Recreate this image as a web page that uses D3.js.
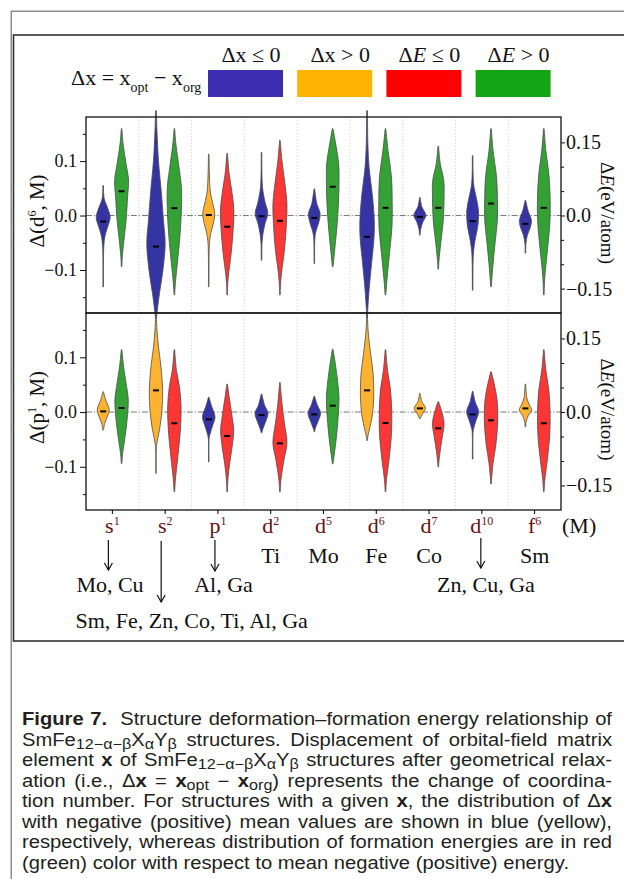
<!DOCTYPE html>
<html>
<head>
<meta charset="utf-8">
<script src="https://cdn.jsdelivr.net/npm/d3@7"></script>
<style>
body { margin: 0; background: #fff; }
#fig { position: relative; width: 624px; height: 879px; overflow: hidden; }
#cap { position: absolute; left: 22px; top: 709px; width: 590px; transform-origin: 0 0;
  font-family: "Liberation Sans", Arial, sans-serif; font-size: 17.5px; line-height: 20.5px; color: #231f20; }
#cap div { text-align: justify; text-align-last: justify; white-space: nowrap; }
#cap div.last { text-align-last: left; }
#cap sub { font-size: 0.8em; vertical-align: -0.2em; line-height: 0; }
</style>
</head>
<body>
<div id="fig"></div>
<script>
// ---- data ----
const catBase = ["s", "s", "p", "d", "d", "d", "d", "d", "f"];
const catSup = ["1", "2", "1", "2", "5", "6", "7", "10", "6"];
const elements = ["", "", "", "Ti", "Mo", "Fe", "Co", "", "Sm"];

// violins: knots [value, density] from top to bottom, one array per category
// top panel, left axis  Δ(d6, M)
const topDx = [
  [[0.055,0.3],[0.031,1],[0.016,4],[-0.003,7],[-0.018,5],[-0.036,2],[-0.057,0.6],[-0.131,0.3]],
  [[0.1925,0.4],[0.156,1],[0.101,2.5],[0.040,5.5],[-0.009,7.5],[-0.051,9.2],[-0.100,7],[-0.143,3.5],[-0.179,1],[-0.188,0.4]],
  [[0.113,0.3],[0.046,1.5],[0.022,4],[0.004,6],[-0.015,4.5],[-0.033,2],[-0.051,0.7],[-0.131,0.3]],
  [[0.116,0.3],[0.052,1],[0.025,3.5],[0.004,6.3],[-0.015,3.5],[-0.033,1.5],[-0.051,0.5],[-0.082,0.3]],
  [[0.049,0.3],[0.022,2.5],[0.004,5.8],[-0.009,5],[-0.027,2],[-0.039,0.7],[-0.088,0.3]],
  [[0.1925,0.4],[0.132,0.8],[0.089,2],[0.034,5.5],[-0.009,7.2],[-0.039,7],[-0.088,4.5],[-0.137,2],[-0.173,0.7],[-0.188,0.4]],
  [[0.033,0.3],[0.016,2],[0.0005,6],[-0.012,3],[-0.024,1],[-0.036,0.3]],
  [[0.110,0.3],[0.058,1],[0.034,3.5],[0.010,5.8],[-0.015,5.5],[-0.045,2.5],[-0.069,0.8],[-0.137,0.3]],
  [[0.028,0.3],[0.010,2.5],[-0.009,6],[-0.021,5],[-0.036,2],[-0.051,0.5],[-0.069,0.3]]
];
const topDxMean = [-0.011, -0.057, 0.001, -0.0013, -0.0043, -0.039, -0.0025, -0.0104, -0.0153];

// top panel, right axis  ΔE
const topDE = [
  [[0.178,0.3],[0.147,1.5],[0.106,4.5],[0.072,7],[0.038,6],[-0.010,4.5],[-0.057,2],[-0.085,0.7],[-0.105,0.3]],
  [[0.178,0.3],[0.147,1.5],[0.093,5],[0.059,7],[0.011,7],[-0.044,5.5],[-0.098,3],[-0.139,1],[-0.163,0.3]],
  [[0.127,0.3],[0.086,2],[0.045,5],[0.011,6.7],[-0.030,6],[-0.078,4],[-0.119,1.5],[-0.143,0.5],[-0.163,0.3]],
  [[0.154,0.3],[0.113,2],[0.065,5],[0.025,7],[-0.016,6.5],[-0.071,4.5],[-0.119,1.5],[-0.146,0.5],[-0.163,0.3]],
  [[0.178,0.3],[0.147,3],[0.106,6],[0.072,6.3],[0.038,6],[-0.016,4.5],[-0.071,2],[-0.105,0.3]],
  [[0.178,0.3],[0.134,2.5],[0.079,6],[0.031,6.7],[-0.023,6.5],[-0.078,4],[-0.132,1.5],[-0.163,0.3]],
  [[0.142,0.3],[0.106,2],[0.072,5.5],[0.038,5.8],[-0.010,5],[-0.057,2.5],[-0.091,0.8],[-0.110,0.3]],
  [[0.178,0.3],[0.134,2],[0.079,5.5],[0.038,6.3],[-0.010,6.3],[-0.057,4],[-0.112,1.5],[-0.146,0.3]],
  [[0.178,0.3],[0.134,2],[0.086,5],[0.045,6.2],[-0.010,6.2],[-0.064,4],[-0.126,1],[-0.163,0.3]]
];
const topDEMean = [0.0497, 0.015, -0.023, -0.011, 0.059, 0.0157, 0.0157, 0.0245, 0.0157];

// bottom panel, left axis  Δ(p1, M)
const botDx = [
  [[0.037,0.3],[0.022,2.5],[0.004,6],[-0.009,4],[-0.021,1.5],[-0.033,0.3]],
  [[0.181,0.4],[0.150,1],[0.119,2.5],[0.083,5],[0.040,6.7],[0.004,6],[-0.027,4],[-0.051,1.5],[-0.063,0.5],[-0.112,0.3]],
  [[0.027,0.3],[0.010,3],[-0.009,6.3],[-0.024,4],[-0.039,1.5],[-0.048,0.4],[-0.091,0.3]],
  [[0.033,0.3],[0.013,3],[-0.002,6.5],[-0.018,4],[-0.030,1.5],[-0.038,0.3]],
  [[0.029,0.3],[0.013,3],[-0.002,6.3],[-0.018,3.5],[-0.030,1],[-0.036,0.3]],
  [[0.181,0.3],[0.150,1],[0.107,3.5],[0.071,6],[0.034,6.7],[-0.002,5.5],[-0.027,3],[-0.042,1],[-0.052,0.3]],
  [[0.034,0.3],[0.019,2],[0.007,5.7],[-0.002,3],[-0.012,0.3]],
  [[0.038,0.3],[0.019,2.5],[0.001,6],[-0.015,3.5],[-0.030,1],[-0.039,0.4],[-0.086,0.3]],
  [[0.051,0.3],[0.025,1.5],[0.013,4],[0.004,6.2],[-0.006,3],[-0.018,0.7],[-0.027,0.3]]
];
const botDxMean = [0.0012, 0.0396, -0.0134, -0.0055, -0.0043, 0.0396, 0.0067, -0.0043, 0.0067];

// bottom panel, right axis  ΔE
const botDE = [
  [[0.127,0.3],[0.093,2],[0.052,5],[0.025,6.7],[-0.016,5.5],[-0.057,3],[-0.085,1],[-0.105,0.3]],
  [[0.127,0.3],[0.086,2],[0.052,5],[0.011,6.7],[-0.037,6],[-0.091,3.5],[-0.139,1],[-0.163,0.3]],
  [[0.057,0.3],[0.031,2],[-0.003,4.5],[-0.037,6.5],[-0.071,5],[-0.105,2.5],[-0.139,0.7],[-0.163,0.3]],
  [[0.060,0.3],[0.018,2],[-0.023,4.5],[-0.064,7],[-0.098,4],[-0.139,1],[-0.163,0.3]],
  [[0.128,0.3],[0.093,3],[0.052,5.5],[0.025,6.3],[-0.023,5],[-0.064,3],[-0.095,1],[-0.106,0.3]],
  [[0.127,0.3],[0.086,2],[0.045,5],[0.004,6.2],[-0.044,6],[-0.098,3.5],[-0.139,1],[-0.163,0.3]],
  [[0.021,0.3],[0.004,3],[-0.023,5.8],[-0.051,4],[-0.078,2],[-0.098,0.8],[-0.112,0.3]],
  [[0.082,0.3],[0.059,3],[0.025,6],[-0.016,6.7],[-0.064,5],[-0.105,2],[-0.136,0.6],[-0.147,0.3]],
  [[0.127,0.3],[0.086,2],[0.045,5],[0.004,6.2],[-0.044,6],[-0.098,3.5],[-0.139,1],[-0.163,0.3]]
];
const botDEMean = [0.0082, -0.023, -0.049, -0.064, 0.0129, -0.0225, -0.0334, -0.017, -0.023];

const leftMajor = [-0.1, 0, 0.1], leftMinor = [-0.15, -0.05, 0.05, 0.15];
const rightMajor = [-0.15, 0, 0.15], rightMinor = [-0.1, -0.05, 0.05, 0.1];
const legendLabels = [["Δx", " ≤ 0"], ["Δx", " > 0"], ["ΔE", " ≤ 0"], ["ΔE", " > 0"]];
const legendColors = ["#3a2db0", "#ffb300", "#ff0000", "#13a513"];

// ---- drawing ----
const serif = "'Liberation Serif', 'Times New Roman', serif";
const violinCol = { neg: "#3434a4", pos: "#fdb330", eNeg: "#fc3535", ePos: "#34a134" };

const svg = d3.select("#fig").append("svg").attr("width", 624).attr("height", 879)
  .style("position", "absolute").style("left", 0).style("top", 0);

// frame lines
svg.append("rect").attr("x", 11.25).attr("y", 11.25).attr("width", 800).attr("height", 1000)
  .attr("fill", "none").attr("stroke", "#8c8c8c").attr("stroke-width", 1.5);
svg.append("rect").attr("x", 13.5).attr("y", 35).attr("width", 800).attr("height", 606)
  .attr("fill", "none").attr("stroke", "#333").attr("stroke-width", 1.6);

// legend
let leg = svg.append("g").attr("font-family", serif).attr("fill", "#111");
let t = leg.append("text").attr("x", 71).attr("y", 85).attr("font-size", 22);
t.append("tspan").text("Δx = x");
t.append("tspan").attr("font-size", 14).attr("dy", 7).text("opt");
t.append("tspan").attr("dy", -7).text(" − x");
t.append("tspan").attr("font-size", 14).attr("dy", 7).text("org");

legendColors.forEach((c, i) => {
  leg.append("rect").attr("x", 208 + i * 89.2).attr("y", 70).attr("width", 75).attr("height", 27).attr("fill", c);
  let lt = leg.append("text").attr("x", 208 + i * 89.2 + 43).attr("y", 62)
    .attr("font-size", 22).attr("text-anchor", "middle");
  lt.append("tspan").text(legendLabels[i][0].slice(0, 1));
  lt.append("tspan").attr("font-style", i > 1 ? "italic" : "normal").text(legendLabels[i][0].slice(1));
  lt.append("tspan").text(legendLabels[i][1]);
});

// scales
const x = d3.scaleBand().domain(d3.range(catBase.length)).range([86, 561]);
const sub = d3.scalePoint().domain(["dx", "dE"]).range([x.bandwidth() / 2 - 9.2, x.bandwidth() / 2 + 9.2]);
const w = d3.scaleLinear().domain([0, 10]).range([0, 10]);

const panels = [
  { top: 117, bot: 313, dx: topDx, dxMean: topDxMean, dE: topDE, dEMean: topDEMean, sup: "6", base: "d" },
  { top: 313, bot: 510, dx: botDx, dxMean: botDxMean, dE: botDE, dEMean: botDEMean, sup: "1", base: "p" }
];

panels.forEach(p => {
  const yL = d3.scaleLinear().domain([-0.179, 0.181]).range([p.bot, p.top]);
  const yR = d3.scaleLinear().domain([-0.2, 0.202]).range([p.bot, p.top]);
  const g = svg.append("g");

  // vertical dotted grid at category borders
  g.selectAll(".grid").data(d3.range(1, catBase.length)).enter().append("line")
    .attr("x1", d => x(d)).attr("x2", d => x(d)).attr("y1", p.top).attr("y2", p.bot)
    .attr("stroke", "#c8c8c8").attr("stroke-width", 0.8).attr("stroke-dasharray", "1.2,2");
  // zero line
  g.append("line").attr("x1", 86).attr("x2", 561).attr("y1", yL(0)).attr("y2", yL(0))
    .attr("stroke", "#777").attr("stroke-width", 1).attr("stroke-dasharray", "6,2,1.2,2");

  const sets = [
    { knots: p.dx, means: p.dxMean, y: yL, s: "dx", col: m => m <= 0 ? violinCol.neg : violinCol.pos },
    { knots: p.dE, means: p.dEMean, y: yR, s: "dE", col: m => m <= 0 ? violinCol.eNeg : violinCol.ePos }
  ];
  sets.forEach(st => {
    st.knots.forEach((k, i) => {
      const cx = x(i) + sub(st.s);
      const area = d3.area().curve(d3.curveCatmullRom)
        .y(d => st.y(d[0])).x0(d => cx - w(d[1])).x1(d => cx + w(d[1]));
      g.append("path").attr("d", area(k)).attr("fill", st.col(st.means[i]))
        .attr("stroke", "#4d4d4d").attr("stroke-width", 0.8);
      g.append("line").attr("x1", cx - 3).attr("x2", cx + 3)
        .attr("y1", st.y(st.means[i])).attr("y2", st.y(st.means[i]))
        .attr("stroke", "#000").attr("stroke-width", 2);
    });
  });

  // axes
  const axL = g.append("g").attr("transform", "translate(86,0)")
    .call(d3.axisLeft(yL).tickValues(leftMajor).tickSize(6).tickPadding(3).tickFormat(d3.format(".1f")));
  g.append("g").attr("transform", "translate(86,0)")
    .call(d3.axisLeft(yL).tickValues(leftMinor).tickSize(3).tickFormat(""));
  const axR = g.append("g").attr("transform", "translate(561,0)")
    .call(d3.axisRight(yR).tickValues(rightMajor).tickSize(4).tickPadding(1)
      .tickFormat(d => d === 0 ? "0.0" : d3.format(".2f")(d)));
  g.append("g").attr("transform", "translate(561,0)")
    .call(d3.axisRight(yR).tickValues(rightMinor).tickSize(3).tickFormat(""));
  g.selectAll(".domain").remove();
  g.selectAll(".tick line").attr("stroke", "#111");
  axL.selectAll("text").attr("font-family", serif).attr("font-size", 18).attr("fill", "#111");
  axR.selectAll("text").attr("font-family", serif).attr("font-size", 20).attr("fill", "#111");

  // spine
  g.append("rect").attr("x", 86).attr("y", p.top).attr("width", 475).attr("height", p.bot - p.top)
    .attr("fill", "none").attr("stroke", "#111").attr("stroke-width", 1.3);

  // left label
  const mid = (p.top + p.bot) / 2;
  let ll = g.append("text").attr("transform", `translate(44,${mid - 4}) rotate(-90)`)
    .attr("text-anchor", "middle").attr("font-family", serif).attr("font-size", 21).attr("fill", "#111");
  ll.append("tspan").text("Δ(" + p.base);
  ll.append("tspan").attr("font-size", 12).attr("dy", -8).text(p.sup);
  ll.append("tspan").attr("dy", 8).text(", M)");

  // right label
  let rl = g.append("text").attr("transform", `translate(601,${mid - 2}) rotate(90)`)
    .attr("text-anchor", "middle").attr("font-family", serif).attr("font-size", 19).attr("fill", "#111");
  rl.append("tspan").text("Δ");
  rl.append("tspan").attr("font-style", "italic").text("E");
  rl.append("tspan").text("(eV/atom)");
});

// x axis ticks and labels
svg.append("g").attr("transform", "translate(0,510)")
  .call(d3.axisBottom(x).tickSize(4).tickFormat(""))
  .call(a => a.select(".domain").remove());

const xl = svg.append("g").attr("font-family", serif).attr("font-size", 22);
catBase.forEach((b, i) => {
  const cx = x(i) + x.bandwidth() / 2;
  let tt = xl.append("text").attr("x", cx).attr("y", 533).attr("text-anchor", "middle").attr("fill", "#6b1111");
  tt.append("tspan").text(b);
  tt.append("tspan").attr("font-size", 12).attr("dy", -8).text(catSup[i]);
  if (elements[i]) xl.append("text").attr("x", cx).attr("y", 563).attr("text-anchor", "middle")
    .attr("fill", "#111").text(elements[i]);
});
xl.append("text").attr("x", 562).attr("y", 533).attr("fill", "#111").text("(M)");

// arrows to substituent lists
const arrows = [[0, -4, 540, 570], [1, -4, 541, 602], [2, -3, 540, 571], [7, -1, 538, 568]];
arrows.forEach(a => {
  const ax = x(a[0]) + x.bandwidth() / 2 + a[1];
  xl.append("line").attr("x1", ax).attr("x2", ax).attr("y1", a[2]).attr("y2", a[3])
    .attr("stroke", "#111").attr("stroke-width", 1.2);
  xl.append("path").attr("d", `M${ax - 4},${a[3] - 7}L${ax},${a[3]}L${ax + 4},${a[3] - 7}`)
    .attr("fill", "none").attr("stroke", "#111").attr("stroke-width", 1.2);
});
xl.append("text").attr("x", 110).attr("y", 592).attr("text-anchor", "middle").attr("fill", "#111").text("Mo, Cu");
xl.append("text").attr("x", 223.5).attr("y", 592).attr("text-anchor", "middle").attr("fill", "#111").text("Al, Ga");
xl.append("text").attr("x", 486).attr("y", 592).attr("text-anchor", "middle").attr("fill", "#111").text("Zn, Cu, Ga");
xl.append("text").attr("x", 75.5).attr("y", 628).attr("fill", "#111").text("Sm, Fe, Zn, Co, Ti, Al, Ga");

// caption
const capLines = [
  "<b>Figure 7.</b>&nbsp; Structure deformation–formation energy relationship of",
  "SmFe<sub>12−α−β</sub>X<sub>α</sub>Y<sub>β</sub> structures. Displacement of orbital-field matrix",
  "element <b>x</b> of SmFe<sub>12−α−β</sub>X<sub>α</sub>Y<sub>β</sub> structures after geometrical relax-",
  "ation (i.e., Δ<b>x</b> = <b>x</b><sub>opt</sub> − <b>x</b><sub>org</sub>) represents the change of coordina-",
  "tion number. For structures with a given <b>x</b>, the distribution of Δ<b>x</b>",
  "with negative (positive) mean values are shown in blue (yellow),",
  "respectively, whereas distribution of formation energies are in red",
  "(green) color with respect to mean negative (positive) energy."
];
const cap = d3.select("#fig").append("div").attr("id", "cap");
// the caption type is wide: stretch it so the last line spans what it spans in the picture (~547 px)
const probe = cap.append("span").style("white-space", "nowrap").html(capLines[7]);
const stretch = 547 / probe.node().getBoundingClientRect().width;
probe.remove();
cap.style("width", (590 / stretch) + "px").style("transform", `scaleX(${stretch})`);
cap.selectAll("div").data(capLines).enter()
  .append("div").attr("class", (d, i) => i === capLines.length - 1 ? "last" : null).html(d => d);
</script>
</body>
</html>
